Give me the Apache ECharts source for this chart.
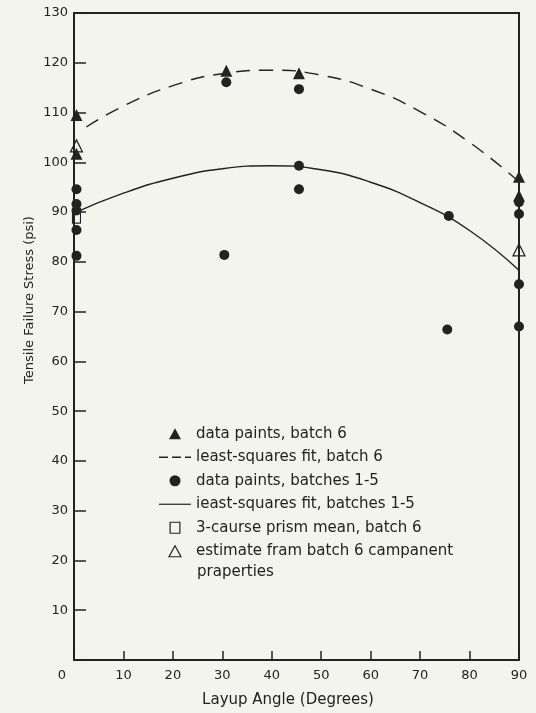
<!DOCTYPE html>
<html><head><meta charset="utf-8">
<script src="https://cdn.jsdelivr.net/npm/echarts@6/dist/echarts.min.js"></script>
<style>html,body{margin:0;padding:0;background:#f4f4ee}#c{width:536px;height:713px}</style>
</head><body><div id="c"></div>
<script>
// ---- data ----
const batch6Points = [[0.5,109.5],[0.5,101.7],[30.8,118.4],[45.5,117.9],[90,97.1],[90,93.3]];
const batch6Fit = [[2.5,107.1],[10,111.3],[20,115.4],[30,117.8],[40,118.5],[50,117.5],[60,114.7],[70,110.2],[80,104.0],[90,96.1]];
const batches15Points = [[0.5,94.6],[0.5,91.6],[0.5,90.3],[0.5,86.4],[0.5,81.2],
  [30.8,116.1],[30.4,81.4],[45.5,114.7],[45.5,99.3],[45.5,94.6],[75.8,89.2],[75.5,66.4],
  [90,92.0],[90,89.6],[90,75.5],[90,67.0]];
const batches15Fit = [[0,89.8],[10,93.8],[20,96.8],[30,98.7],[40,99.3],[50,98.5],[60,96.0],[70,91.9],[80,86.3],[90,78.3]];
const prismMean = [[0.5,88.8]];
const estimate = [[0.5,103.3],[90,82.4]];
const legendNames = ['data paints, batch 6','least-squares fit, batch 6','data paints, batches 1-5','ieast-squares fit, batches 1-5','3-caurse prism mean, batch 6','estimate fram batch 6 campanent'];
const legendExtra = 'praperties';
const xTitle = 'Layup Angle (Degrees)';
const yTitle = 'Tensile Failure Stress (psi)';

const INK = '#222222';
const FONT = 'DejaVu Sans';
const OPEN = {color:'rgba(0,0,0,0)', borderColor:INK, borderWidth:1.2, opacity:1};
const legendIcons = [
  'path://M6,0L12,11H0Z',
  'path://M0,0h9v1.3h-9z M13,0h9v1.3h-9z M26,0h6v1.3h-6z',
  'circle',
  'path://M0,0h32v1.2h-32z',
  'path://M0,0h8v9h-8z',
  'path://M6,0L12,11H0Z'
];
const chart = echarts.init(document.getElementById('c'), null, {renderer:'canvas'});
chart.setOption({
  backgroundColor:'#f4f4ee',
  animation:false,
  grid:{left:74, top:13, width:445, height:647, show:true, borderColor:INK, borderWidth:2, backgroundColor:'transparent'},
  xAxis:{type:'value', min:0, max:90, interval:10,
    axisLine:{show:true, lineStyle:{color:INK, width:2}},
    axisTick:{show:true, inside:true, length:9, lineStyle:{color:INK, width:1.5}},
    splitLine:{show:false},
    axisLabel:{color:INK, fontSize:13, fontFamily:FONT, margin:9,
      formatter:function(v){return v===0?'{z|0}':String(v);},
      rich:{z:{fontSize:13, fontFamily:FONT, color:INK, padding:[0,24,0,0]}}}
  },
  yAxis:{type:'value', min:0, max:130, interval:10,
    axisLine:{show:true, lineStyle:{color:INK, width:2}},
    axisTick:{show:true, inside:true, length:12, lineStyle:{color:INK, width:1.5}},
    splitLine:{show:false},
    axisLabel:{color:INK, fontSize:13, fontFamily:FONT, margin:6,
      formatter:function(v){return v===0?'':String(v);}}
  },
  legend:{orient:'vertical', left:154, top:417, itemWidth:32, itemHeight:11, itemGap:0,
    selectedMode:false,
    data:legendNames.map(function(n,i){
      const d = {name:n, icon:legendIcons[i]};
      if (i===4 || i===5) d.itemStyle = OPEN;
      else d.itemStyle = {color:INK, borderWidth:0, opacity:1};
      return d;
    }),
    textStyle:{color:INK, fontSize:15, fontFamily:FONT, lineHeight:23.5}},
  graphic:[
    {type:'text', left:197, top:565, style:{text:legendExtra, fill:INK, fontSize:15, fontFamily:FONT}},
    {type:'text', x:30, y:300, rotation:Math.PI/2, style:{text:yTitle, fill:INK, fontSize:13, fontFamily:FONT, align:'center', verticalAlign:'middle'}},
    {type:'text', x:288, y:700, style:{text:xTitle, fill:INK, fontSize:15, fontFamily:FONT, align:'center', verticalAlign:'middle'}}
  ],
  series:[
    {name:legendNames[0], type:'scatter', symbol:'triangle', symbolSize:12, data:batch6Points, z:5,
      itemStyle:{color:INK, opacity:1}},
    {name:legendNames[1], type:'line', smooth:true, symbol:'none', data:batch6Fit, z:3,
      lineStyle:{color:INK, width:1.4, type:[14,9]}, itemStyle:{color:INK}},
    {name:legendNames[2], type:'scatter', symbol:'circle', symbolSize:10, data:batches15Points, z:5,
      itemStyle:{color:INK, opacity:1}},
    {name:legendNames[3], type:'line', smooth:true, symbol:'none', data:batches15Fit, z:3,
      lineStyle:{color:INK, width:1.4}, itemStyle:{color:INK}},
    {name:legendNames[4], type:'scatter', symbol:'rect', symbolSize:[8,10], data:prismMean, z:4,
      itemStyle:OPEN},
    {name:legendNames[5], type:'scatter', symbol:'triangle', symbolSize:12, data:estimate, z:4,
      itemStyle:OPEN}
  ]
});
</script></body></html>
